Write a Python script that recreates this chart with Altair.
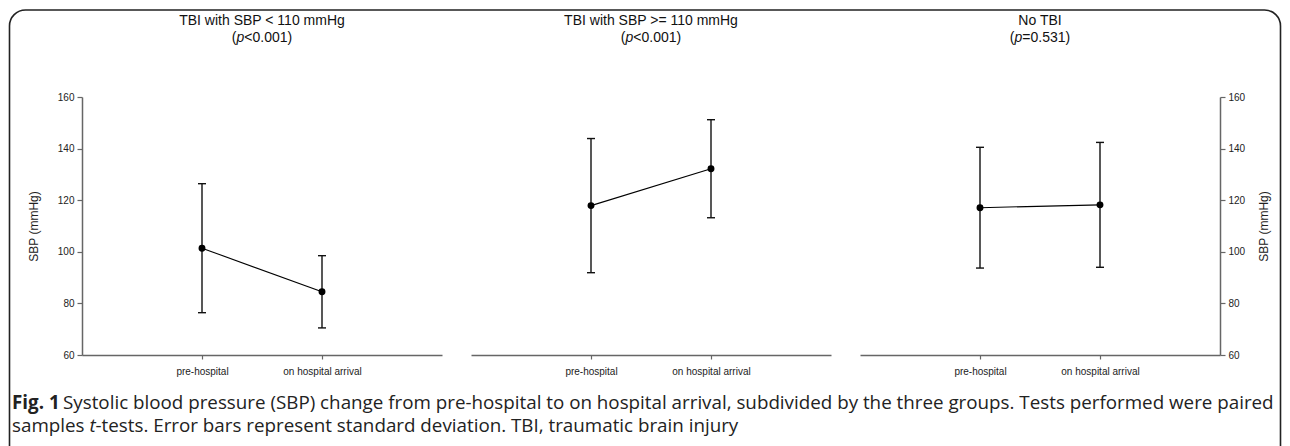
import altair as alt
import pandas as pd

# ---- data ----
groups = ["TBI with SBP < 110 mmHg", "TBI with SBP >= 110 mmHg", "No TBI"]
p_texts = ["<0.001)", "<0.001)", "=0.531)"]
timepoints = ["pre-hospital", "on hospital arrival"]
mean_pre = [101.4, 117.9, 117.1]
mean_arrival = [84.5, 132.2, 118.2]
sd_pre = [25.0, 26.0, 23.4]
sd_arrival = [14.0, 19.0, 24.2]
y_ticks = [60, 80, 100, 120, 140, 160]
y_title = "SBP (mmHg)"

caption_bold = ["Fig. 1"]
caption_l1 = ["Systolic blood pressure (SBP) change from pre-hospital to on hospital arrival, subdivided by the three groups. Tests performed were paired"]
caption_l2a = ["samples"]
caption_l2b = ["t"]
caption_l2c = ["-tests. Error bars represent standard deviation. TBI, traumatic brain injury"]

rows = []
for g, mp, ma, sp, sa in zip(groups, mean_pre, mean_arrival, sd_pre, sd_arrival):
    rows.append({"group": g, "time": timepoints[0], "mean": mp, "lo": mp - sp, "hi": mp + sp})
    rows.append({"group": g, "time": timepoints[1], "mean": ma, "lo": ma - sa, "hi": ma + sa})
data = pd.DataFrame(rows)

FONT = "Liberation Sans"
CAP_FONT = "Open Sans"
W, H = 360, 258
AX_COL = "#666666"


def panel(i):
    df = data[data["group"] == groups[i]]
    base = alt.Chart(df)
    xax = alt.Axis(title=None, labelAngle=0, labelFontSize=10, labelFont=FONT, labelColor="#222",
                   domainColor=AX_COL, domainWidth=1.5, tickColor=AX_COL, tickWidth=1.2,
                   tickSize=4, labelPadding=7, grid=False)
    if i == 0:
        yax = alt.Axis(orient="left", values=y_ticks, title=y_title, titleFont=FONT, titleFontSize=12,
                       titleFontWeight="normal", titleColor="#222", titlePadding=17, labelFont=FONT,
                       labelFontSize=10, labelColor="#222", domainColor=AX_COL, domainWidth=1.5,
                       tickColor=AX_COL, tickWidth=1.2, tickSize=5, labelPadding=3, grid=False)
    elif i == 2:
        yax = alt.Axis(orient="right", values=y_ticks, title=y_title, titleFont=FONT, titleFontSize=12,
                       titleFontWeight="normal", titleColor="#222", titleAngle=270, titlePadding=26,
                       labelFont=FONT, labelFontSize=10, labelColor="#222", domainColor=AX_COL,
                       domainWidth=1.5, tickColor=AX_COL, tickWidth=1.2, tickSize=5, labelPadding=3,
                       grid=False)
    else:
        yax = None
    x = alt.X("time:N", sort=timepoints, scale=alt.Scale(type="point", padding=1), axis=xax)
    ysc = alt.Scale(domain=[60, 160], nice=False, zero=False)
    line = base.mark_line(color="black", strokeWidth=1.1).encode(
        x=x, y=alt.Y("mean:Q", scale=ysc, axis=yax))
    rule = base.mark_rule(color="#111", strokeWidth=1.4).encode(
        x=x, y=alt.Y("lo:Q", scale=ysc, axis=yax), y2="hi:Q")
    cap_lo = base.mark_tick(orient="horizontal", size=8, thickness=1.4, color="#111", opacity=1).encode(
        x=x, y=alt.Y("lo:Q", scale=ysc, axis=yax))
    cap_hi = base.mark_tick(orient="horizontal", size=8, thickness=1.4, color="#111", opacity=1).encode(
        x=x, y=alt.Y("hi:Q", scale=ysc, axis=yax))
    pts = base.mark_point(filled=True, size=48, color="black", opacity=1).encode(
        x=x, y=alt.Y("mean:Q", scale=ysc, axis=yax))

    # two-line panel title (p in italics)
    tdf = pd.DataFrame({"g": [groups[i]], "p": [p_texts[i]]})
    tb = alt.Chart(tdf)
    fs = 14
    w_open, w_p, w_rest = 0.333 * fs, 0.556 * fs, 3.419 * fs
    x0 = W / 2 - (w_open + w_p + w_rest) / 2
    t1 = tb.mark_text(font=FONT, fontSize=fs, align="center", baseline="middle", color="#111").encode(
        text="g:N", x=alt.value(W / 2), y=alt.value(-76))
    t2a = tb.mark_text(font=FONT, fontSize=fs, align="left", baseline="middle", color="#111", text="(").encode(
        x=alt.value(x0), y=alt.value(-59.5))
    t2b = tb.mark_text(font=FONT, fontSize=fs, fontStyle="italic", align="left", baseline="middle",
                       color="#111", text="p").encode(x=alt.value(x0 + w_open), y=alt.value(-59.5))
    t2c = tb.mark_text(font=FONT, fontSize=fs, align="left", baseline="middle", color="#111").encode(
        text="p:N", x=alt.value(x0 + w_open + w_p), y=alt.value(-59.5))
    layers = [line, rule, cap_lo, cap_hi, pts, t1, t2a, t2b, t2c]

    if i == 0:
        one = alt.Chart(pd.DataFrame({"k": [0]}))
        border = one.mark_rect(fillOpacity=0, stroke="#222", strokeWidth=1.6, cornerRadius=16).encode(
            x=alt.value(-72.5), x2=alt.value(1198.5), y=alt.value(-87), y2=alt.value(375))
        cs = 18.8
        c0 = alt.Chart(pd.DataFrame({"t": caption_bold})).mark_text(
            font=CAP_FONT, fontSize=cs, fontWeight="bold", align="left", baseline="middle", color="#222"
        ).encode(text="t:N", x=alt.value(-70), y=alt.value(305.5))
        c1 = alt.Chart(pd.DataFrame({"t": caption_l1})).mark_text(
            font=CAP_FONT, fontSize=cs, align="left", baseline="middle", color="#222"
        ).encode(text="t:N", x=alt.value(-19), y=alt.value(305.5))
        c2a = alt.Chart(pd.DataFrame({"t": caption_l2a})).mark_text(
            font=CAP_FONT, fontSize=cs, align="left", baseline="middle", color="#222"
        ).encode(text="t:N", x=alt.value(-70), y=alt.value(329))
        c2b = alt.Chart(pd.DataFrame({"t": caption_l2b})).mark_text(
            font=CAP_FONT, fontSize=cs, fontStyle="italic", align="left", baseline="middle", color="#222"
        ).encode(text="t:N", x=alt.value(7.5), y=alt.value(329))
        c2c = alt.Chart(pd.DataFrame({"t": caption_l2c})).mark_text(
            font=CAP_FONT, fontSize=cs, align="left", baseline="middle", color="#222"
        ).encode(text="t:N", x=alt.value(13.5), y=alt.value(329))
        layers += [border, c0, c1, c2a, c2b, c2c]

    return alt.layer(*layers).properties(width=W, height=H)


chart = alt.hconcat(panel(0), panel(1), panel(2), spacing=29, bounds="flush").properties(
    padding={"left": 0, "top": 1, "right": 0, "bottom": 0}, background="white"
).configure_view(strokeWidth=0, strokeOpacity=0)

chart.save("out.html", embed_options={"renderer": "svg", "actions": False})
